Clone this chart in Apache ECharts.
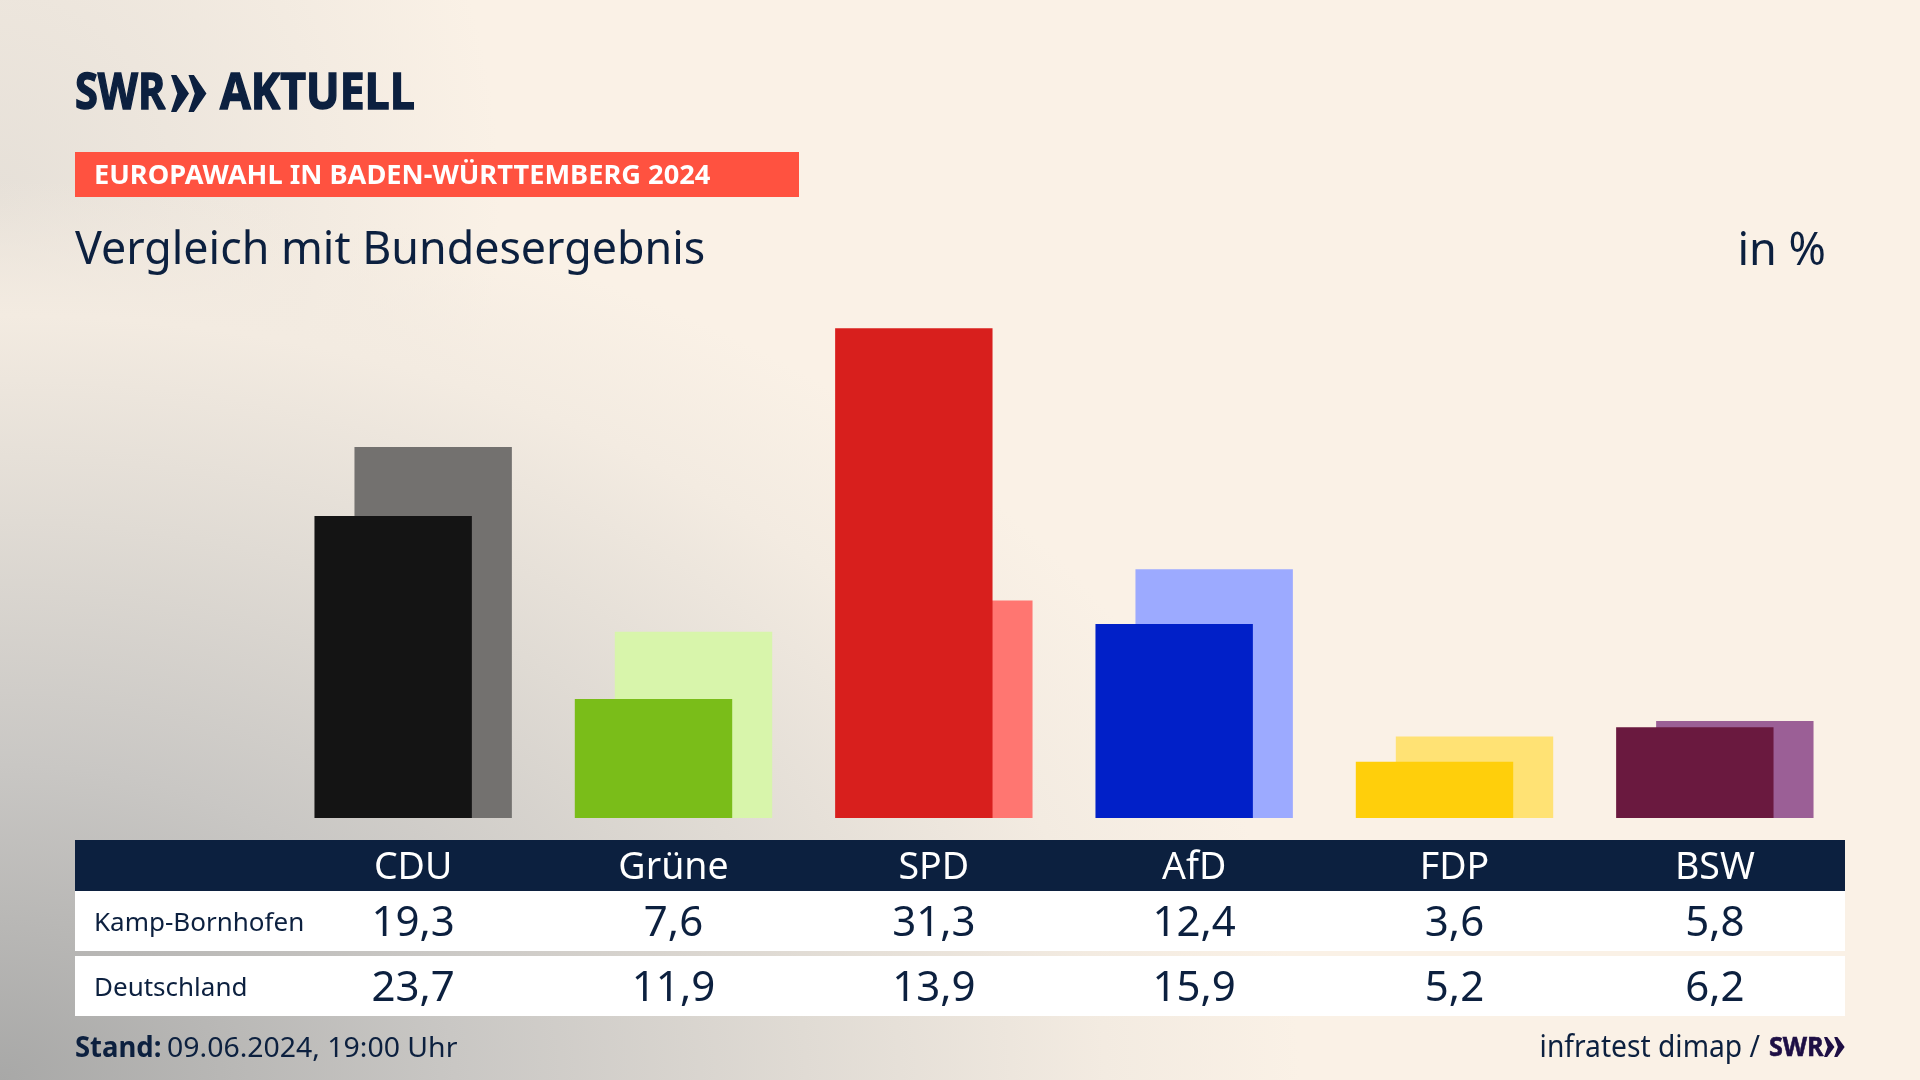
<!DOCTYPE html>
<html><head><meta charset="utf-8">
<style>
html,body{margin:0;padding:0;width:1920px;height:1080px;overflow:hidden;background:#faf1e6}
#bg{position:absolute;left:0;top:0;width:1920px;height:1080px;background:
radial-gradient(ellipse 1300px 900px at 0px 1080px,#a8a8a7 0%,#c9c7c4 35%,#e0dbd4 62%,#f3ebe1 85%,rgba(250,241,230,0) 100%),
radial-gradient(ellipse 500px 600px at 0px 200px,#e6e0d8 0%,rgba(250,241,230,0) 100%),#faf1e6}
#c{position:absolute;left:0;top:0;width:1920px;height:1080px}
</style></head><body><div id="bg"></div><div id="c"></div>
<script src="https://cdn.jsdelivr.net/npm/echarts@6/dist/echarts.min.js"></script>
<script>
const parties=['CDU','Grüne','SPD','AfD','FDP','BSW'];
const kampBornhofen=[19.3,7.6,31.3,12.4,3.6,5.8];
const deutschland=[23.7,11.9,13.9,15.9,5.2,6.2];
const darkColors=['#141414','#7abd19','#d81f1d','#0120c8','#ffcf0b','#6a193f'];
const lightColors=['#73716f','#d8f5ab','#ff7671','#9caaff','#ffe274','#9b5f96'];
const rowNames=['Kamp-Bornhofen','Deutschland'];
const navy='#0c203f';
const fontFam='"Noto Sans"';
const fmt=v=>v.toFixed(1).replace('.',',');
const W=157.4, GAP=-(W-40)/W*100;

function label(margin,size,color){return {show:true,interval:0,margin,fontSize:size,color,fontFamily:fontFam,verticalAlign:'middle',align:'center'};}
function xAxis(data,margin,size,color){return {type:'category',data,gridIndex:0,position:'bottom',
  axisLine:{show:false},axisTick:{show:false},splitLine:{show:false},axisLabel:label(margin,size,color)};}
function text(x,y,t,size,color,opt){opt=opt||{};return {type:'text',x,y,scaleX:opt.sx||1,z:10,
  style:{text:t,fontSize:size,fontFamily:opt.fam||fontFam,fontWeight:opt.w||'normal',fill:color,textAlign:opt.a||'left',textVerticalAlign:'middle',
  stroke:opt.stroke?color:null,lineWidth:opt.stroke||0}};}
function rect(x,y,w,h,fill){return {type:'rect',z:-1,shape:{x,y,width:w,height:h},style:{fill}};}
function chev(x,y,h,w,color){
  const mk=(ox)=>({type:'polygon',z:10,shape:{points:[[x+ox,y],[x+ox+w*0.3,y],[x+ox+w,y+h/2],[x+ox+w*0.3,y+h],[x+ox,y+h],[x+ox+w*0.35,y+h/2]]},style:{fill:color}});
  return [mk(0),mk(w*0.97)];
}
const chart=echarts.init(document.getElementById('c'),null,{width:1920,height:1080,renderer:'canvas'});
chart.setOption({
  backgroundColor:'transparent',animation:false,
  grid:{left:283,width:1562,top:192,height:626,containLabel:false},
  xAxis:[xAxis(parties,50,37.5,'#ffffff'),xAxis(kampBornhofen.map(fmt),106,42,navy),xAxis(deutschland.map(fmt),171,42,navy)],
  yAxis:{type:'value',min:0,max:40,show:false,splitLine:{show:false}},
  series:[
   {name:rowNames[0],type:'bar',xAxisIndex:0,z:3,barWidth:W,barGap:GAP+'%',data:kampBornhofen.map((v,i)=>({value:v,itemStyle:{color:darkColors[i]}}))},
   {name:rowNames[1],type:'bar',xAxisIndex:0,z:2,barWidth:W,barGap:GAP+'%',data:deutschland.map((v,i)=>({value:v,itemStyle:{color:lightColors[i]}}))}
  ],
  graphic:[
   rect(75,840,1770,51,navy),rect(75,891,1770,60,'#fff'),rect(75,956,1770,60,'#fff'),
   rect(75,152,724,45,'#ff5240'),
   text(75,95,'SWR',50,navy,{w:'bold',fam:'"Open Sans"',sx:0.83,stroke:1.5}),
   ...chev(171,75,37,18,navy),
   text(220,95,'AKTUELL',50,navy,{w:'bold',fam:'"Open Sans"',sx:0.89,stroke:1.5}),
   text(94,177,'EUROPAWAHL IN BADEN-WÜRTTEMBERG 2024',26,'#fff',{w:'bold',sx:1.047}),
   text(75,251,'Vergleich mit Bundesergebnis',45,navy,{sx:0.995}),
   text(1826,252,'in %',45,navy,{a:'right',sx:1}),
   text(94,923.5,rowNames[0],26,navy,{sx:1}),
   text(94,988.5,rowNames[1],26,navy,{sx:1}),
   text(75,1049.5,'Stand:',28,navy,{w:'bold',sx:0.98}),
   text(167,1049.5,'09.06.2024, 19:00 Uhr',28,navy,{sx:1.015}),
   text(1760,1048,'infratest dimap /',30,navy,{a:'right',sx:0.94}),
   text(1769,1048,'SWR',27,'#1e0f45',{w:'bold',fam:'"Open Sans"',sx:0.93,stroke:0.6}),
   ...chev(1824,1037,20,10.5,'#1e0f45')
  ]
});
</script></body></html>
